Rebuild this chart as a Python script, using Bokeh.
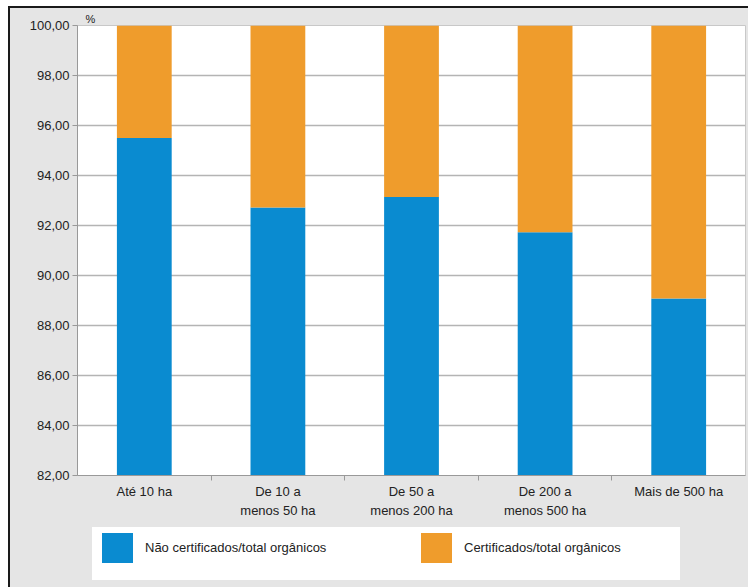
import numpy as np
from bokeh.plotting import figure
from bokeh.layouts import column
from bokeh.models import FixedTicker, ColumnDataSource, Div
from bokeh.embed import file_html
from bokeh.resources import INLINE

# Farm-size classes and share of organic producers (%)
categories = ["Até 10 ha", "De 10 a\nmenos 50 ha", "De 50 a\nmenos 200 ha",
              "De 200 a\nmenos 500 ha", "Mais de 500 ha"]
nao_certificados = [95.5, 92.72, 93.14, 91.73, 89.08]
certificados = [100 - v for v in nao_certificados]
y_ticks = [82, 84, 86, 88, 90, 92, 94, 96, 98, 100]
y_tick_labels = ["82,00", "84,00", "86,00", "88,00", "90,00", "92,00",
                 "94,00", "96,00", "98,00", "100,00"]
series_names = ["Não certificados/total orgânicos", "Certificados/total orgânicos"]

BLUE = "#0a8bd0"
ORANGE = "#ef9c2c"
BG = "#e5e5e5"
FONT = "Liberation Sans"

centers = np.arange(len(categories)) + 0.5
base = 82.0
src = ColumnDataSource(dict(
    x=centers,
    bottom=[base] * len(categories),
    mid=nao_certificados,
    top=[n + c for n, c in zip(nao_certificados, certificados)],
))

p = figure(width=738, height=515, x_range=(0, len(categories)), y_range=(82, 100),
           output_backend="svg", toolbar_location=None,
           min_border_left=67, min_border_right=3, min_border_top=17, min_border_bottom=48,
           background_fill_color="white", border_fill_color=BG,
           outline_line_color="#c8c8c8")

# unit marker above the value axis
p.title.text = "%"
p.title.align = "left"
p.title.offset = 8
p.title.standoff = 1
p.title.text_font = FONT
p.title.text_font_size = "11px"
p.title.text_font_style = "normal"
p.title.text_color = "#222222"

p.vbar(x="x", bottom="bottom", top="mid", width=0.41, source=src,
       fill_color=BLUE, line_color=None)
p.vbar(x="x", bottom="mid", top="top", width=0.41, source=src,
       fill_color=ORANGE, line_color=None)

# y axis
p.yaxis.ticker = FixedTicker(ticks=y_ticks, minor_ticks=[])
p.yaxis.major_label_overrides = {t: l for t, l in zip(y_ticks, y_tick_labels)}
p.yaxis.major_label_text_font = FONT
p.yaxis.major_label_text_font_size = "13px"
p.yaxis.major_label_text_color = "#222222"
p.yaxis.major_tick_in = 0
p.yaxis.major_tick_out = 5
p.yaxis.major_tick_line_color = "#999999"
p.yaxis.axis_line_color = "#999999"
p.yaxis.major_label_standoff = 3

# x axis: labels at bar centres, short separator ticks between classes
p.xaxis.ticker = FixedTicker(ticks=list(centers),
                             minor_ticks=list(range(1, len(categories))))
p.xaxis.major_label_overrides = {float(c): lab for c, lab in zip(centers, categories)}
p.xaxis.major_label_text_font = FONT
p.xaxis.major_label_text_font_size = "13px"
p.xaxis.major_label_text_color = "#222222"
p.xaxis.major_label_text_line_height = 1.3
p.xaxis.major_tick_line_color = None
p.xaxis.minor_tick_in = 0
p.xaxis.minor_tick_out = 5
p.xaxis.minor_tick_line_color = "#999999"
p.xaxis.axis_line_color = "#999999"
p.xaxis.major_label_standoff = 2

p.xgrid.grid_line_color = None
p.ygrid.ticker = FixedTicker(ticks=y_ticks)
p.ygrid.grid_line_color = "#b4b4b4"
p.ygrid.grid_line_width = 1.5

# legend strip underneath the chart
swatch = ("position:absolute;top:10px;width:31px;height:30px;background:{c};")
label = ("position:absolute;top:17px;font-family:'Liberation Sans';font-size:13px;"
         "line-height:16px;color:#222222;white-space:nowrap;")
legend_html = (
    '<div style="position:relative;width:738px;height:64px;background:%s;">' % BG
    + '<div style="position:absolute;left:82px;top:4px;width:588px;height:53px;'
      'background:white;"></div>'
    + '<div style="left:92px;%s"></div>' % swatch.format(c=BLUE)
    + '<div style="left:135px;%s">%s</div>' % (label, series_names[0])
    + '<div style="left:411px;%s"></div>' % swatch.format(c=ORANGE)
    + '<div style="left:454px;%s">%s</div>' % (label, series_names[1])
    + '</div>'
)
key = Div(text=legend_html, width=738, height=64, margin=0)

layout = column(p, key, spacing=0)
layout.styles = {"position": "absolute", "left": "8px", "top": "6px",
                 "border-left": "2px solid #1a1a1a", "border-top": "2px solid #1a1a1a",
                 "background-color": BG}

open("out.html", "w").write(file_html(layout, INLINE))
